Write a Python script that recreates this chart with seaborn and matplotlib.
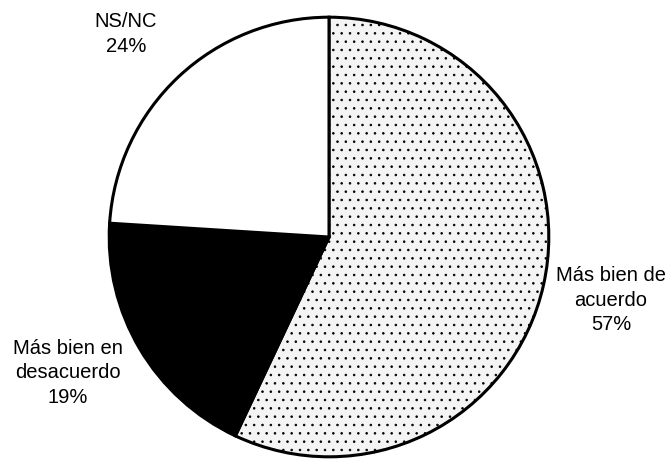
import matplotlib
matplotlib.use("Agg")
import matplotlib.pyplot as plt
import seaborn as sns

categories = ["Más bien de\nacuerdo", "Más bien en\ndesacuerdo", "NS/NC"]
values = [57, 19, 24]
colors = ["#f4f4f4", "#000000", "#ffffff"]
hatches = ["..", "", ""]

sns.set_style("white")
plt.rcParams['font.family'] = ['Liberation Sans', 'DejaVu Sans']

W, H = 672, 463
fig = plt.figure(figsize=(W / 100, H / 100), dpi=100)
cx, cy, r = 329, 237, 222
ax = fig.add_axes([(cx - r) / W, (H - cy - r) / H, 2 * r / W, 2 * r / H])
plt.rcParams['hatch.color'] = '#a8a8a8'
plt.rcParams['hatch.linewidth'] = 0.6
wedges, _ = ax.pie(values, colors=colors, startangle=90, counterclock=False,
                   wedgeprops=dict(edgecolor="black", linewidth=2.2))
for w, h in zip(wedges, hatches):
    if h:
        w.set_hatch(h)
ax.set_xlim(-1.01, 1.01)
ax.set_ylim(-1.01, 1.01)
ax.set_aspect("equal")
ax.axis("off")

label_pos = [(611, 300), (68, 373), (126, 34)]
for (px, py), cat, v in zip(label_pos, categories, values):
    fig.text(px / W, 1 - py / H, f"{cat}\n{v}%", ha="center", va="center",
             fontsize=14.5, linespacing=1.35, color="black")

fig.savefig("out.png", dpi=100)
